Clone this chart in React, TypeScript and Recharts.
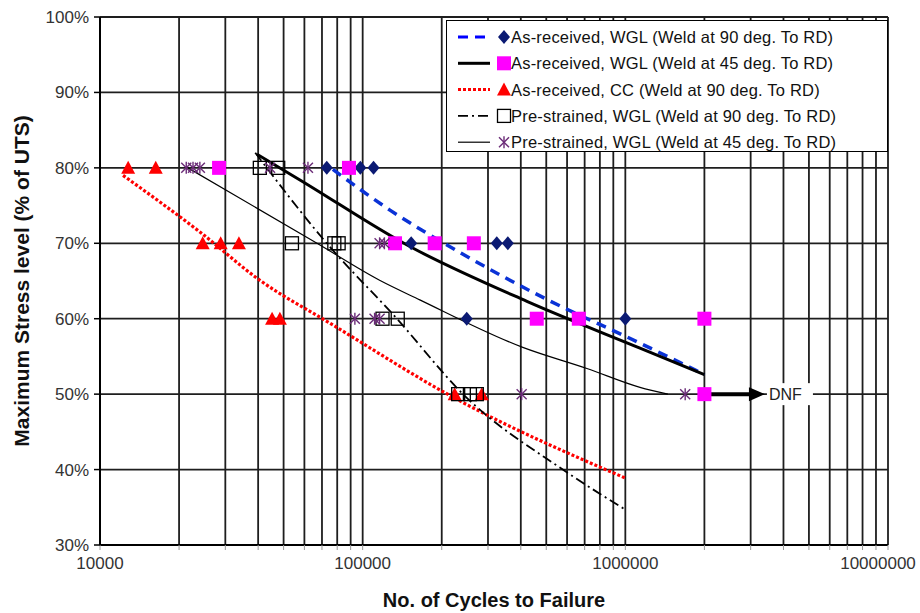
import React from 'react';
import { ComposedChart, Line, Scatter, XAxis, YAxis, CartesianGrid, ReferenceLine, ReferenceDot, Label } from 'recharts';

const xTicks = [
  10000, 20000, 30000, 40000, 50000, 60000, 70000, 80000, 90000,
  100000, 200000, 300000, 400000, 500000, 600000, 700000, 800000, 900000,
  1000000, 2000000, 3000000, 4000000, 5000000, 6000000, 7000000, 8000000, 9000000,
  10000000,
];
const xLabels = [10000, 100000, 1000000, 10000000];
const yTicks = [30, 40, 50, 60, 70, 80, 90, 100];

// test points (cycles, % of UTS)
const ar90Cycles = [73000, 98000, 110000, 153000, 324000, 357000, 249000, 1000000];
const ar90Stress = [80, 80, 80, 70, 70, 70, 60, 60];
const ar45Cycles = [28400, 88700, 132800, 188000, 265000, 460000, 665000, 2000000, 2000000];
const ar45Stress = [80, 80, 70, 70, 70, 60, 60, 60, 50];
const ccCycles = [12800, 16300, 24600, 28800, 33800, 45200, 48400, 224000, 284000];
const ccStress = [80, 80, 70, 70, 70, 60, 60, 50, 50];
const ps90Cycles = [40600, 47700, 53800, 78000, 81000, 119000, 136000, 231000, 256000, 272000];
const ps90Stress = [80, 80, 70, 70, 70, 60, 60, 50, 50, 50];
const ps45Cycles = [21300, 22600, 24000, 44400, 61900, 116000, 121000, 93400, 111000, 116000, 403000, 1690000];
const ps45Stress = [80, 80, 80, 80, 80, 70, 70, 60, 60, 60, 50, 50];

// trend lines
const ar90FitCycles = [77000, 127000, 234000, 500000, 1100000, 2000000];
const ar90FitStress = [79.8, 74.4, 68.8, 62.6, 57.0, 52.6];
const ar45FitCycles = [39600, 57700, 147000, 422000, 1137000, 2000000];
const ar45FitStress = [81.8, 78.4, 69.8, 62.3, 56.1, 52.6];
const ccFitCycles = [12240, 24000, 40600, 75100, 220700, 996000];
const ccFitStress = [79.0, 71.5, 65.1, 59.4, 49.6, 38.9];
const ps90FitCycles = [39000, 73000, 135000, 241000, 578000, 1010000];
const ps90FitStress = [82.0, 70.0, 60.0, 50.0, 40.0, 34.6];
const ps45FitCycles = [21600, 67000, 116000, 165000, 407000, 714000, 1137000, 1452000];
const ps45FitStress = [80.0, 70.0, 65.1, 62.5, 56.2, 53.4, 50.9, 50.0];

const dnfStart = 2000000;
const dnfShaftEnd = 3000000;
const dnfTip = 3400000;
const dnfStress = 50;

const zip = (xs: number[], ys: number[]) => xs.map((x, i) => ({ x, y: ys[i] }));

const Diamond = ({ cx, cy }: any) => (
  <polygon points={`${cx},${cy - 7} ${cx + 6},${cy} ${cx},${cy + 7} ${cx - 6},${cy}`} fill="#0b1a73" />
);
const FilledSquare = ({ cx, cy }: any) => (
  <rect x={cx - 7} y={cy - 7} width={14} height={14} fill="#ff00ff" />
);
const Triangle = ({ cx, cy }: any) => (
  <polygon points={`${cx},${cy - 7} ${cx + 7},${cy + 6} ${cx - 7},${cy + 6}`} fill="#ff0000" />
);
const OpenSquare = ({ cx, cy }: any) => (
  <rect x={cx - 6.5} y={cy - 6.5} width={13} height={13} fill="none" stroke="#000" strokeWidth={1.3} />
);
const Asterisk = ({ cx, cy }: any) => (
  <g stroke="#6b2c78" strokeWidth={1.4}>
    <line x1={cx} y1={cy - 6} x2={cx} y2={cy + 6} />
    <line x1={cx - 5} y1={cy - 5} x2={cx + 5} y2={cy + 5} />
    <line x1={cx - 5} y1={cy + 5} x2={cx + 5} y2={cy - 5} />
  </g>
);

const series = [
  { name: 'As-received, WGL (Weld at 90 deg. To RD)', pts: zip(ar90Cycles, ar90Stress), fit: zip(ar90FitCycles, ar90FitStress), stroke: '#0a32d6', legendStroke: '#0000ff', width: 3.5, dash: '10 7', Marker: Diamond },
  { name: 'As-received, WGL (Weld at 45 deg. To RD)', pts: zip(ar45Cycles, ar45Stress), fit: zip(ar45FitCycles, ar45FitStress), stroke: '#000', legendStroke: '#000', width: 3, dash: undefined, Marker: FilledSquare },
  { name: 'As-received, CC (Weld at 90 deg. To RD)', pts: zip(ccCycles, ccStress), fit: zip(ccFitCycles, ccFitStress), stroke: '#ff0000', legendStroke: '#ff0000', width: 3.2, dash: '3 2', Marker: Triangle },
  { name: 'Pre-strained, WGL (Weld at 90 deg. To RD)', pts: zip(ps90Cycles, ps90Stress), fit: zip(ps90FitCycles, ps90FitStress), stroke: '#000', legendStroke: '#000', width: 1.8, dash: '10 4 2 4', Marker: OpenSquare },
  { name: 'Pre-strained, WGL (Weld at 45 deg. To RD)', pts: zip(ps45Cycles, ps45Stress), fit: zip(ps45FitCycles, ps45FitStress), stroke: '#000', legendStroke: '#000', width: 1.2, dash: undefined, Marker: Asterisk },
];

const font = "'Liberation Sans', Arial, sans-serif";
const titleFont = "'Liberation Sans Narrow', 'Arial Narrow', 'Liberation Sans', Arial, sans-serif";

const XTick = ({ x, y, payload }: any) => {
  const v = payload.value;
  if (!xLabels.includes(v)) return <g />;
  const shift = v === 10000000 ? -10 : 0;
  return (
    <text x={x + shift} y={y} dy={13} textAnchor="middle" fontSize={17} fontFamily={font} fill="#333">
      {v}
    </text>
  );
};

const DnfArrow = ({ cx, cy }: any) => (
  <g>
    <polygon points={`${cx},${cy} ${cx - 16},${cy - 7} ${cx - 16},${cy + 7}`} fill="#000" />
    <rect x={cx + 2} y={cy - 11} width={46} height={22} fill="#fff" />
    <text x={cx + 4} y={cy} dy={6} fontSize={16} fontFamily={font} fill="#222">DNF</text>
  </g>
);

const YTitle = ({ viewBox }: any) => {
  const cy = viewBox.y + viewBox.height / 2;
  return (
    <text x={22} y={cy} transform={`rotate(-90, 22, ${cy})`} textAnchor="middle" dy={7} fontSize={21} fontWeight="bold" fontFamily={titleFont} fill="#111">
      Maximum Stress level (% of UTS)
    </text>
  );
};

const XTitle = ({ viewBox }: any) => (
  <text x={viewBox.x + viewBox.width / 2} y={607} textAnchor="middle" fontSize={20} fontWeight="bold" fontFamily={titleFont} fill="#111">
    No. of Cycles to Failure
  </text>
);

function LegendBox() {
  return (
    <div style={{ position: 'absolute', left: 446, top: 20, width: 440, height: 130, border: '1.5px solid #000', background: '#fff' }}>
      <svg width={440} height={130} style={{ overflow: 'visible' }}>
        {series.map((s, i) => {
          const cy = 16 + i * 26.3;
          const M = s.Marker;
          return (
            <g key={s.name}>
              <line x1={11} x2={43} y1={cy} y2={cy} stroke={s.legendStroke} strokeWidth={Math.min(s.width, 3)} strokeDasharray={s.dash} />
              <M cx={57} cy={cy} />
              <text x={64} y={cy} dy={6} fontSize={16.5} letterSpacing={0.2} fontFamily={font} fill="#111">{s.name}</text>
            </g>
          );
        })}
      </svg>
    </div>
  );
}

export default function App() {
  return (
    <div style={{ position: 'absolute', left: 0, top: 0, width: 920, height: 613, background: '#fff' }}>
      <ComposedChart width={920} height={613} margin={{ top: 17, right: 32, bottom: 23, left: 0 }}>
        <CartesianGrid stroke="#1e1e1e" strokeWidth={1.8} />
        <XAxis
          dataKey="x"
          type="number"
          scale="log"
          domain={[10000, 10000000]}
          ticks={xTicks}
          interval={0}
          allowDataOverflow
          height={45}
          tick={<XTick />}
          tickSize={5}
          tickMargin={6}
          axisLine={{ stroke: '#000', strokeWidth: 2 }}
          tickLine={{ stroke: '#999' }}
        >
          <Label content={<XTitle />} />
        </XAxis>
        <YAxis
          type="number"
          domain={[30, 100]}
          ticks={yTicks}
          interval={0}
          width={100}
          tickSize={6}
          tickMargin={5}
          tickFormatter={(v: number) => `${v}%`}
          tick={{ fontSize: 17, fontFamily: font, fill: '#333' }}
          axisLine={{ stroke: '#000', strokeWidth: 2 }}
          tickLine={{ stroke: '#000', strokeWidth: 1.5 }}
        >
          <Label content={<YTitle />} />
        </YAxis>
        {series.map((s) => (
          <Line
            key={'fit-' + s.name}
            data={s.fit}
            dataKey="y"
            type="monotone"
            stroke={s.stroke}
            strokeWidth={s.width}
            strokeDasharray={s.dash}
            dot={false}
            activeDot={false}
            isAnimationActive={false}
            legendType="none"
          />
        ))}
        <ReferenceLine
          segment={[{ x: dnfStart, y: dnfStress }, { x: dnfShaftEnd, y: dnfStress }]}
          stroke="#000"
          strokeWidth={4}
        />
        <ReferenceDot x={dnfTip} y={dnfStress} shape={<DnfArrow />} />
        {series.map((s) => (
          <Scatter key={'pts-' + s.name} data={s.pts} dataKey="y" shape={<s.Marker />} isAnimationActive={false} />
        ))}
      </ComposedChart>
      <LegendBox />
    </div>
  );
}
